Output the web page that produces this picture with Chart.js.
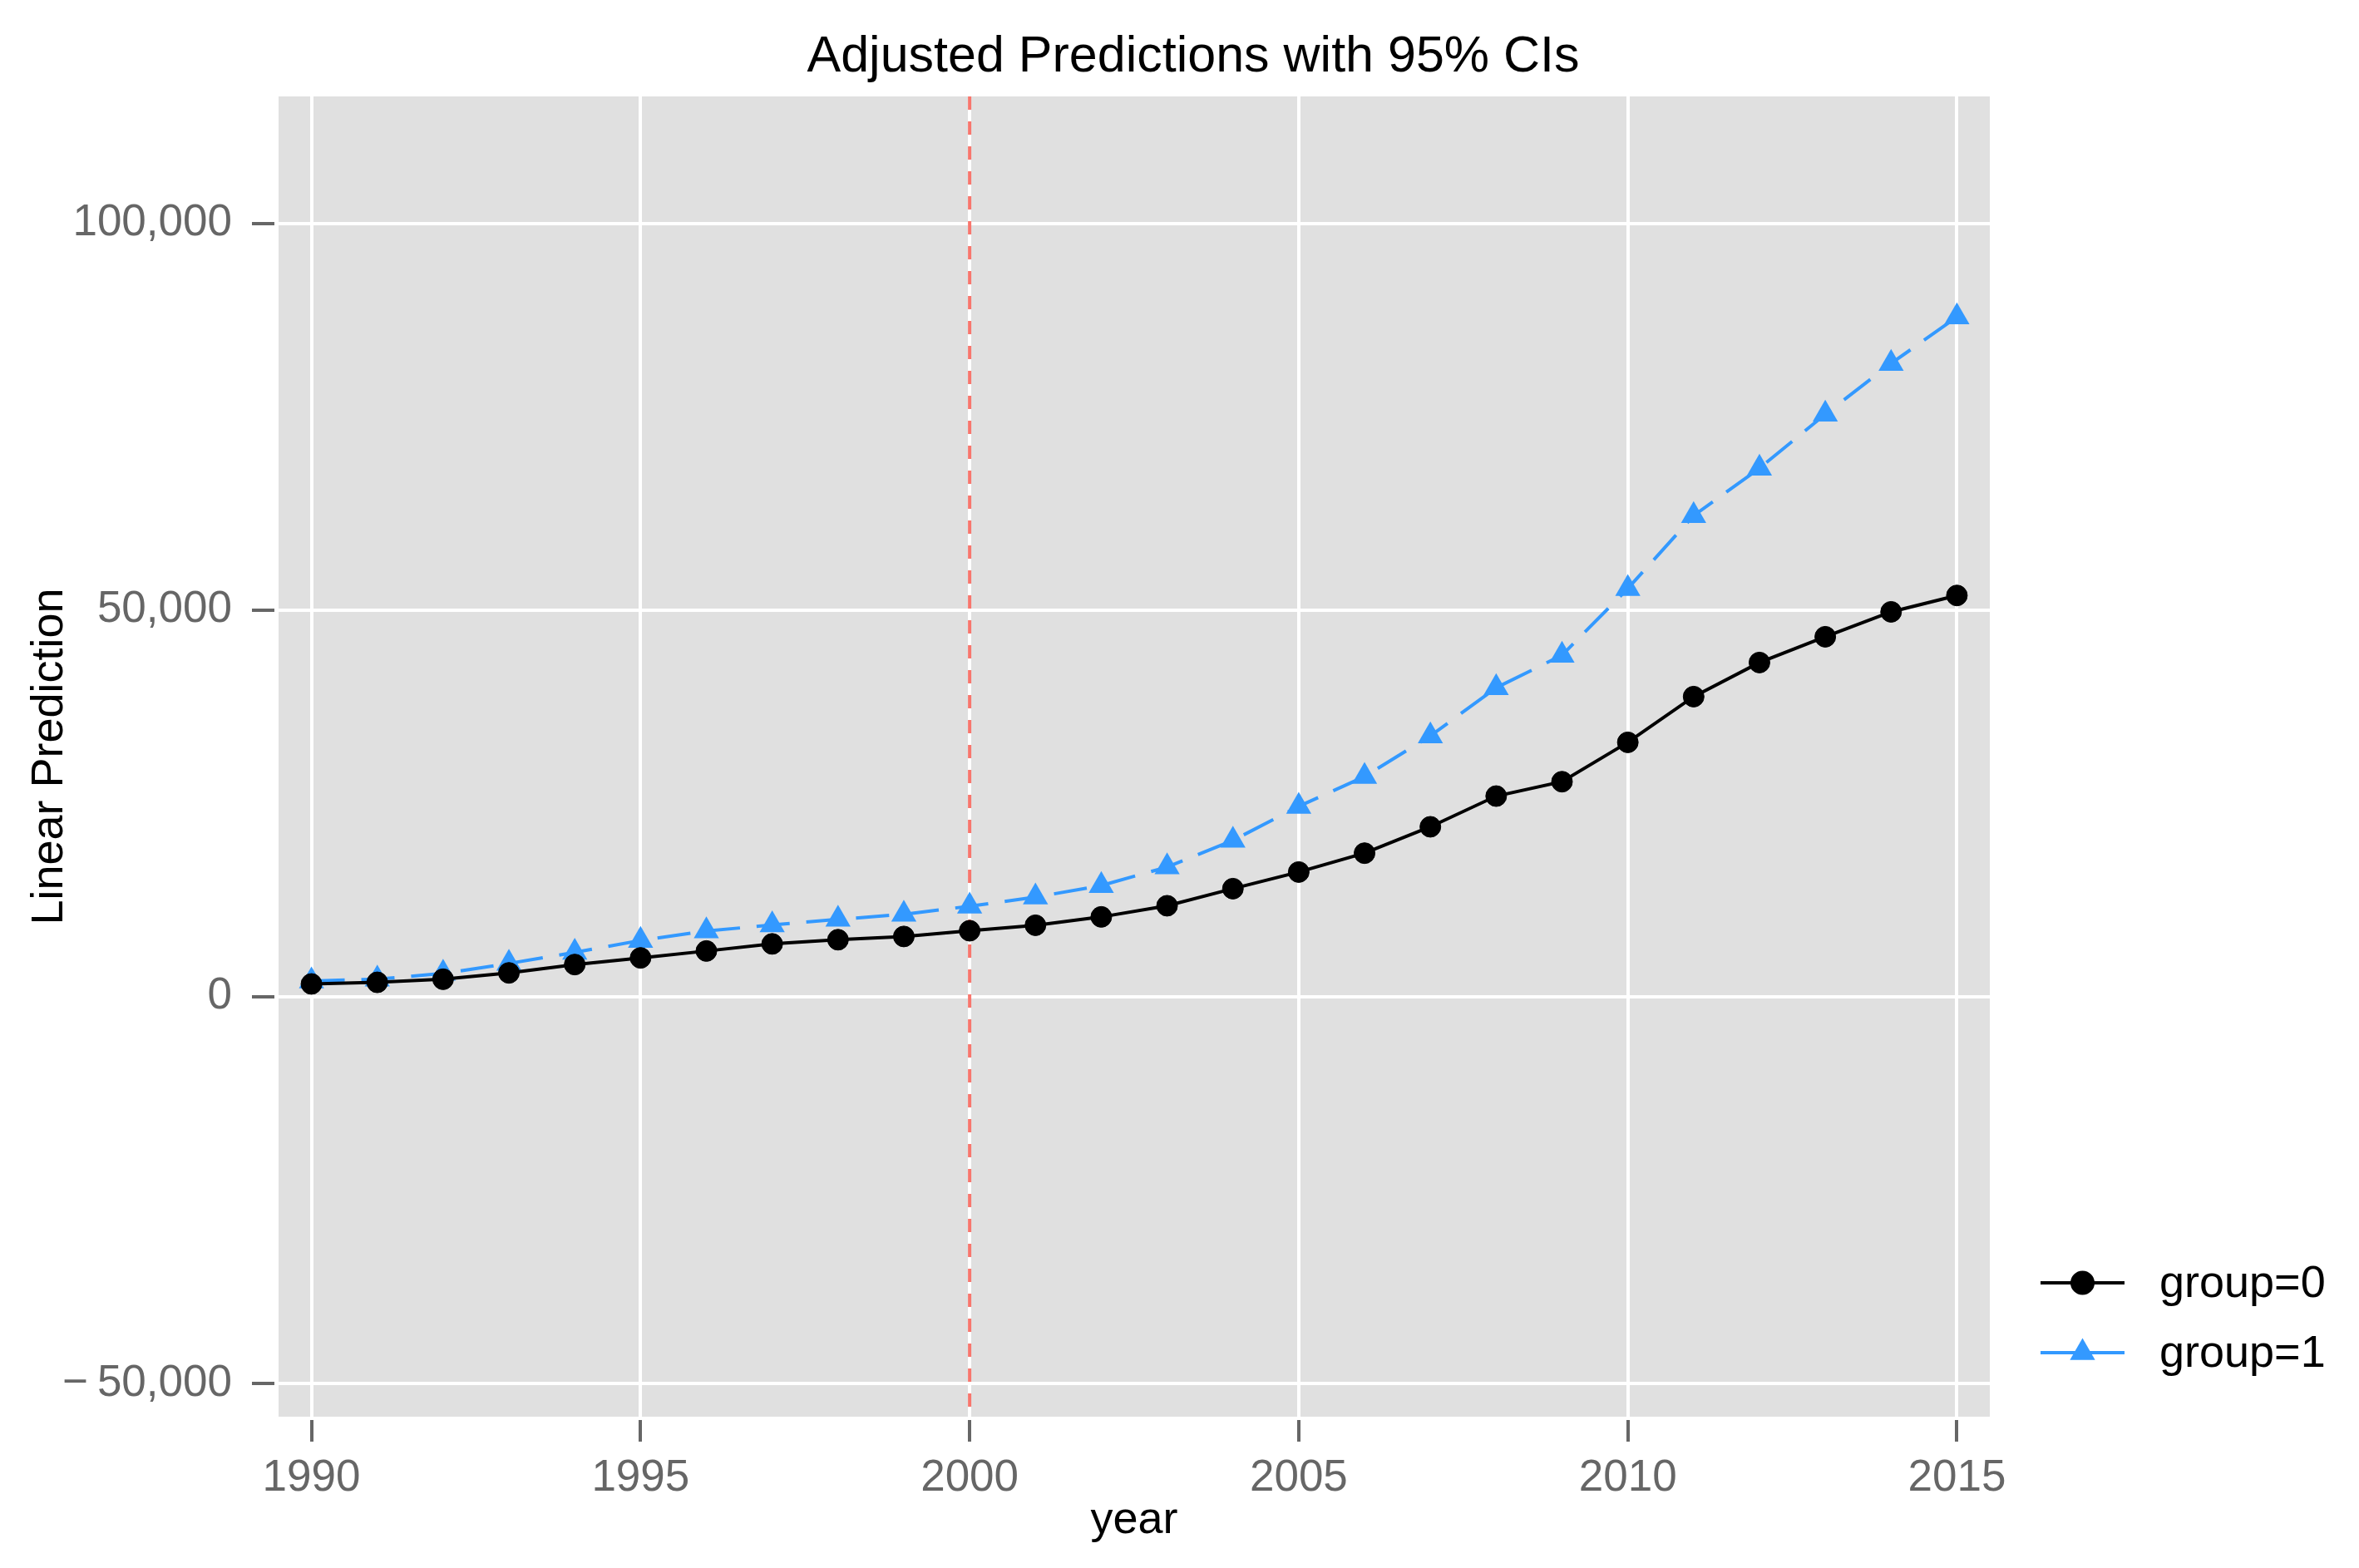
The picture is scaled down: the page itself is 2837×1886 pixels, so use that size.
<!DOCTYPE html>
<html>
<head>
<meta charset="utf-8">
<title>Adjusted Predictions with 95% CIs</title>
<script src="https://cdn.jsdelivr.net/npm/chart.js@4.4.1/dist/chart.umd.min.js"></script>
<style>
  html, body { margin: 0; padding: 0; background: #ffffff; }
  canvas { display: block; }
</style>
</head>
<body>
<canvas id="predChart" width="2837" height="1886"></canvas>
<script>
// data
const years = [1990, 1991, 1992, 1993, 1994, 1995, 1996, 1997, 1998, 1999, 2000, 2001, 2002,
               2003, 2004, 2005, 2006, 2007, 2008, 2009, 2010, 2011, 2012, 2013, 2014, 2015];
const group0 = [1650, 1860, 2260, 3080, 4160, 5020, 5910, 6830, 7370, 7790, 8530, 9240, 10320,
                11760, 13970, 16120, 18560, 21970, 25940, 27800, 32890, 38800, 43210, 46540, 49760, 51880];
const group1 = [2040, 2260, 3010, 4300, 5730, 7280, 8490, 9280, 10000, 10660, 11700, 12880, 14370,
                16770, 20210, 24610, 28460, 33720, 39950, 44150, 52770, 62200, 68330, 75310, 81870, 87890];
const seriesLabels = ['group=0', 'group=1'];
const xTicks = [1990, 1995, 2000, 2005, 2010, 2015];
const yTicks = [-50000, 0, 50000, 100000];
const refYear = 2000;

const FONT = 'Liberation Sans, Arial, Helvetica, sans-serif';
const TICK_GREY = '#666666';
const PANEL_BG = '#e0e0e0';

Chart.defaults.font.family = FONT;

function toPoints(vals) {
    return years.map((yr, i) => ({ x: yr, y: vals[i] }));
}

function fmtY(v) {
    const s = Math.abs(v).toLocaleString('en-US');
    return v < 0 ? '\u2212\u2009' + s : s;
}

// grey panel behind the grid
const panelBg = {
    id: 'panelBg',
    beforeDraw(chart) {
        const { ctx, chartArea: a } = chart;
        ctx.save();
        ctx.fillStyle = PANEL_BG;
        ctx.fillRect(a.left, a.top, a.right - a.left, a.bottom - a.top);
        ctx.restore();
    }
};

// dashed reference line at refYear, under the markers
const refLine = {
    id: 'refLine',
    beforeDatasetsDraw(chart) {
        const { ctx, chartArea: a } = chart;
        const px = chart.scales.x.getPixelForValue(refYear);
        ctx.save();
        ctx.strokeStyle = '#f8766d';
        ctx.lineWidth = 4;
        ctx.setLineDash([16, 14]);
        ctx.beginPath();
        ctx.moveTo(px, a.top);
        ctx.lineTo(px, a.bottom);
        ctx.stroke();
        ctx.restore();
    }
};

// outside tick marks with a small gap, ggplot style
const tickMarks = {
    id: 'tickMarks',
    afterDraw(chart) {
        const { ctx, chartArea: a } = chart;
        const xs = chart.scales.x, ys = chart.scales.y;
        ctx.save();
        ctx.strokeStyle = TICK_GREY;
        ctx.lineWidth = 4;
        ctx.beginPath();
        xs.ticks.forEach(t => {
            const px = Math.round(xs.getPixelForValue(t.value));
            ctx.moveTo(px, a.bottom + 4);
            ctx.lineTo(px, a.bottom + 30);
        });
        ys.ticks.forEach(t => {
            const py = Math.round(ys.getPixelForValue(t.value));
            ctx.moveTo(a.left - 5, py);
            ctx.lineTo(a.left - 32, py);
        });
        ctx.stroke();
        ctx.restore();
    }
};

// title centred on the figure, plus a line+marker legend on the right
const titleAndLegend = {
    id: 'titleAndLegend',
    afterDraw(chart) {
        const ctx = chart.ctx;
        ctx.save();
        ctx.fillStyle = '#000000';
        ctx.font = '61px ' + FONT;
        ctx.textAlign = 'center';
        ctx.textBaseline = 'alphabetic';
        ctx.fillText('Adjusted Predictions with 95% CIs', 1435, 86);

        const keyX0 = 2454, keyX1 = 2555, textX = 2597;
        const rowY = [1543, 1627];
        chart.data.datasets.forEach((ds, i) => {
            const y = rowY[i];
            ctx.strokeStyle = ds.borderColor;
            ctx.lineWidth = 4;
            ctx.setLineDash([]);
            ctx.beginPath();
            ctx.moveTo(keyX0, y);
            ctx.lineTo(keyX1, y);
            ctx.stroke();
            ctx.fillStyle = ds.pointBackgroundColor;
            ctx.strokeStyle = ds.pointBorderColor;
            Chart.helpers.drawPoint(ctx, {
                pointStyle: ds.pointStyle,
                radius: ds.pointRadius,
                borderWidth: ds.pointBorderWidth,
                rotation: 0
            }, (keyX0 + keyX1) / 2, y);
            ctx.fillStyle = '#000000';
            ctx.font = '54px ' + FONT;
            ctx.textAlign = 'left';
            ctx.textBaseline = 'middle';
            ctx.fillText(ds.label, textX, y + 2);
        });
        ctx.restore();
    }
};

const ctx = document.getElementById('predChart');
new Chart(ctx, {
    type: 'line',
    data: {
        datasets: [
            {
                label: seriesLabels[0],
                data: toPoints(group0),
                borderColor: '#000000',
                borderWidth: 4,
                pointStyle: 'circle',
                pointRadius: 12.5,
                pointBorderWidth: 1,
                pointBackgroundColor: '#000000',
                pointBorderColor: '#000000',
                tension: 0
            },
            {
                label: seriesLabels[1],
                data: toPoints(group1),
                borderColor: '#3399ff',
                borderWidth: 4,
                borderDash: [40, 20],
                pointStyle: 'triangle',
                pointRadius: 17.5,
                pointBorderWidth: 0,
                pointBackgroundColor: '#3399ff',
                pointBorderColor: '#3399ff',
                tension: 0
            }
        ]
    },
    options: {
        responsive: false,
        animation: false,
        devicePixelRatio: 1,
        layout: { padding: { left: 0, top: 116, right: 444, bottom: 0 } },
        plugins: {
            legend: { display: false },
            title: { display: false },
            tooltip: { enabled: false }
        },
        scales: {
            x: {
                type: 'linear',
                min: 1989.5,
                max: 2015.5,
                afterBuildTicks: (scale) => { scale.ticks = xTicks.map(v => ({ value: v })); },
                afterFit: (scale) => { scale.height = 182; },
                grid: { color: '#ffffff', lineWidth: 4, drawTicks: false },
                border: { display: false },
                ticks: {
                    autoSkip: false,
                    maxRotation: 0,
                    padding: 43,
                    color: TICK_GREY,
                    font: { size: 53 },
                    callback: (v) => String(v)
                },
                title: {
                    display: true,
                    text: 'year',
                    color: '#000000',
                    font: { size: 54 },
                    padding: { top: 0, bottom: 24 }
                }
            },
            y: {
                type: 'linear',
                min: -54300,
                max: 116400,
                afterBuildTicks: (scale) => { scale.ticks = yTicks.map(v => ({ value: v })); },
                afterFit: (scale) => { scale.width = 335; },
                grid: { color: '#ffffff', lineWidth: 4, drawTicks: false },
                border: { display: false },
                ticks: {
                    padding: 56,
                    color: TICK_GREY,
                    font: { size: 53 },
                    callback: (v) => fmtY(v)
                },
                title: {
                    display: true,
                    text: 'Linear Prediction',
                    color: '#000000',
                    font: { size: 54 },
                    padding: { top: 28, bottom: 0 }
                }
            }
        }
    },
    plugins: [panelBg, refLine, tickMarks, titleAndLegend]
});
</script>
</body>
</html>
